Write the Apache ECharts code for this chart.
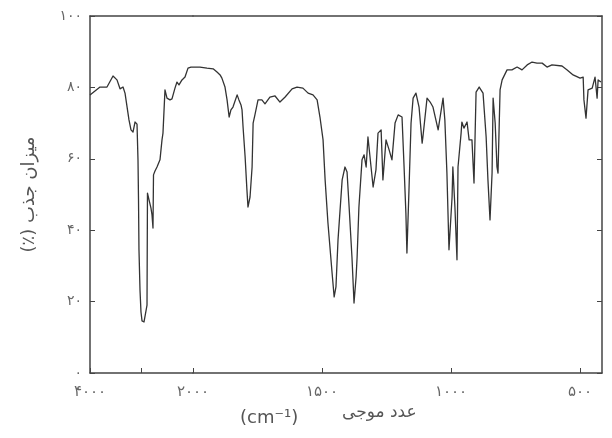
<!DOCTYPE html>
<html>
<head>
<meta charset="utf-8">
<script src="https://cdn.jsdelivr.net/npm/echarts@6/dist/echarts.min.js"></script>
<style>
html,body{margin:0;padding:0;background:#fff;}
#chart{width:612px;height:438px;}
</style>
</head>
<body>
<div id="chart"></div>
<script>
// wavenumber (cm^-1)
const wavenumber = [
4000,3806,3670,3553,3476,3417,3359,3320,3243,3204,3165,3126,3087,3068,3058,3049,3029,3010,2990,2951,2913,2893,2884,2854,2816,2796,2777,2767,2738,2699,2641,2602,2583,2544,2505,2447,2408,2350,2311,2272,2214,2155,2097,2039,
2000,1973,1946,1922,1907,1895,1888,1876,1868,1860,1853,1845,1829,1822,1814,1810,1806,1798,1791,1787,1779,1771,1767,1760,1748,1733,1721,1702,1682,1663,1643,1616,1597,1574,1554,1535,1519,1508,1496,1488,1477,1461,1453,1446,1438,1422,1411,1403,1395,1384,1380,1376,1368,1364,1357,1345,1337,1329,1322,1310,1302,1291,1283,1271,1264,1252,1240,1229,1217,1205,1190,1182,1175,1171,1163,1155,1147,1136,1124,1112,1109,1093,1081,1070,1050,1031,1024,1016,1008,996,993,985,977,973,961,958,950,938,930,919,911,903,891,876,864,857,849,841,837,829,822,818,810,802,783,764,744,725,705,686,667,647,628,609,570,550,527,500,488,485,477,469,453,442,434,430,419
];
// absorption (%)
const absorption = [
77.9,80.1,80.1,83.2,82.1,79.6,80.1,78.4,70.9,68.1,67.5,70.3,69.7,59.7,48.5,34.5,23.2,17.1,14.6,14.3,14.8,19.0,50.4,48.5,46.2,44.3,40.6,55.5,56.6,57.7,59.7,65.3,67.2,79.3,77.0,76.5,76.8,79.8,81.5,80.7,82.1,82.9,85.4,85.7,
85.7,85.7,85.4,85.2,84.3,83.5,82.6,80.1,76.5,71.7,73.7,74.5,77.9,76.5,75.1,73.7,68.9,60.5,51.3,46.5,49.3,57.7,70.0,72.3,76.5,76.5,75.4,77.3,77.6,75.9,77.3,79.6,80.1,79.8,78.4,77.9,76.5,71.7,65.3,54.1,42.0,28.0,21.3,24.1,37.3,54.1,57.7,56.3,46.5,32.5,26.1,19.6,26.9,32.5,46.5,59.7,61.1,57.7,66.1,57.7,52.1,56.9,67.2,68.1,54.1,65.3,62.5,59.7,70.0,72.3,71.7,57.7,44.8,33.6,51.3,70.0,77.0,78.4,74.5,64.4,66.1,77.0,75.9,74.5,68.1,77.0,70.9,56.0,34.5,49.3,57.7,46.5,31.7,57.7,67.2,70.3,68.6,70.3,65.3,65.3,53.2,78.7,80.1,78.4,66.1,54.1,42.9,56.0,77.0,70.0,57.7,56.0,79.3,82.1,84.9,84.9,85.7,84.9,86.3,87.1,86.8,86.8,85.7,86.3,86.0,84.9,83.5,82.6,82.9,76.5,71.4,79.3,79.8,82.9,77.0,82.1,81.5
];
const xTicksLeft = [4000, 3000, 2000];
const xLabelsLeft = [4000, 2000];
const xTicksRight = [1500, 1000, 500];
const yName = '\u202Bمیزان جذب (٪)\u202C';
const xNameUnit = '(cm⁻¹)';
const xNameText = 'عدد موجی';

const fa = v => String(v).replace(/\d/g, d => '۰۱۲۳۴۵۶۷۸۹'[d]);

const highPart = [], lowPart = [];
wavenumber.forEach((w, i) => {
  if (w >= 2000) highPart.push([w, absorption[i]]);
  if (w <= 2000) lowPart.push([w, absorption[i]]);
});

const axisColor = '#444';
const xLabelStyle = {color: '#666', fontFamily: 'DejaVu Sans', fontSize: 15};
const yLabelStyle = {color: '#666', fontFamily: 'DejaVu Sans', fontSize: 14};

const chart = echarts.init(document.getElementById('chart'), null, {renderer: 'canvas'});
chart.setOption({
  backgroundColor: '#fff',
  animation: false,
  grid: [
    {left: 90, width: 103, top: 16, bottom: 65},
    {left: 193, right: 10, top: 16, bottom: 65}
  ],
  xAxis: [
    {type: 'value', gridIndex: 0, min: 2000, max: 4000, inverse: true,
     axisLine: {show: true, lineStyle: {color: axisColor, width: 1.5}},
     axisTick: {show: true, inside: true, length: 5, customValues: xTicksLeft, lineStyle: {color: axisColor}},
     axisLabel: Object.assign({show: true, customValues: xLabelsLeft, margin: 12, formatter: v => fa(v)}, xLabelStyle),
     splitLine: {show: false}},
    {type: 'value', gridIndex: 1, min: 415, max: 2000, inverse: true,
     axisLine: {show: true, lineStyle: {color: axisColor, width: 1.5}},
     axisTick: {show: true, inside: true, length: 5, customValues: xTicksRight, lineStyle: {color: axisColor}},
     axisLabel: Object.assign({show: true, customValues: xTicksRight, margin: 12, formatter: v => fa(v)}, xLabelStyle),
     splitLine: {show: false}},
    {type: 'value', gridIndex: 0, position: 'top', min: 2000, max: 4000, inverse: true,
     axisLine: {show: true, lineStyle: {color: axisColor, width: 1.5}},
     axisTick: {show: false}, axisLabel: {show: false}, splitLine: {show: false}},
    {type: 'value', gridIndex: 1, position: 'top', min: 415, max: 2000, inverse: true,
     axisLine: {show: true, lineStyle: {color: axisColor, width: 1.5}},
     axisTick: {show: false}, axisLabel: {show: false}, splitLine: {show: false}}
  ],
  yAxis: [
    {type: 'value', gridIndex: 0, min: 0, max: 100, interval: 20,
     name: yName, nameLocation: 'middle', nameGap: 52, nameRotate: 90,
     nameTextStyle: {color: '#555', fontFamily: 'DejaVu Sans', fontSize: 18},
     axisLine: {show: true, lineStyle: {color: axisColor, width: 1.5}},
     axisTick: {show: true, inside: true, length: 5, lineStyle: {color: axisColor}},
     axisLabel: Object.assign({show: true, margin: 8, formatter: v => fa(v)}, yLabelStyle),
     splitLine: {show: false}},
    {type: 'value', gridIndex: 1, min: 0, max: 100, interval: 20, position: 'right',
     axisLine: {show: true, lineStyle: {color: axisColor, width: 1.5}},
     axisTick: {show: true, inside: true, length: 5, lineStyle: {color: axisColor}},
     axisLabel: {show: false},
     splitLine: {show: false}}
  ],
  graphic: [
    {type: 'text', left: 240, top: 409,
     style: {text: xNameUnit, fill: '#555', font: '18px "DejaVu Sans"'}},
    {type: 'text', left: 342, top: 404,
     style: {text: xNameText, fill: '#555', font: '17px "DejaVu Sans"'}}
  ],
  series: [
    {type: 'line', xAxisIndex: 0, yAxisIndex: 0, data: highPart, showSymbol: false,
     lineStyle: {color: '#333', width: 1.3, join: 'round'}},
    {type: 'line', xAxisIndex: 1, yAxisIndex: 1, data: lowPart, showSymbol: false,
     lineStyle: {color: '#333', width: 1.3, join: 'round'}}
  ]
});
</script>
</body>
</html>
